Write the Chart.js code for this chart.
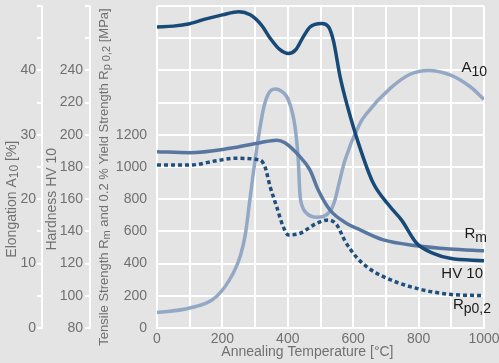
<!DOCTYPE html>
<html lang="en">
<head>
    <meta charset="UTF-8">
    <title>Annealing Temperature</title>
    <script src="https://cdn.jsdelivr.net/npm/chart.js"></script>
    <style>
        body {
            margin: 0;
            padding: 0;
            background-color: #e4e4e4;
        }
        #grafico {
            display: block;
        }
    </style>
</head>
<body>
    <canvas id="grafico" width="499" height="363"></canvas>

    <script>
        // Hardness HV 10
        const hvTemp   = [0, 50, 100, 150, 200, 250, 285, 320, 346, 375, 402, 425, 445, 468, 504, 525, 540, 560, 582, 614, 660, 713, 748, 794, 845, 896, 1000];
        const hvValues = [267, 267.5, 269, 272, 274.5, 276.5, 274.5, 268, 260, 253, 250.5, 253, 260, 267, 269.2, 267, 258, 236, 218, 196, 170.5, 155.3, 147, 132.6, 126.4, 123.3, 121.8];

        // Tensile Strength Rm [MPa]
        const rmTemp   = [0, 100, 223, 315, 366, 391, 437, 468, 493, 529, 580, 621, 692, 794, 896, 1000];
        const rmValues = [1095, 1089, 1116, 1151, 1166, 1150, 1064, 981, 857, 733, 650, 609, 547, 511, 491, 480];

        // 0.2 % Yield Strength Rp0,2 [MPa]
        const rpTemp   = [0, 100, 182, 240, 315, 330, 346, 366, 386, 402, 437, 488, 524, 550, 575, 610, 641, 692, 794, 896, 1000];
        const rpValues = [1012, 1012, 1039, 1054, 1043, 1002, 878, 753, 629, 578, 588, 650, 671, 640, 540, 440, 381, 319, 246, 209, 201];

        // Elongation A10 [%]
        const aTemp   = [0, 100, 182, 233, 255, 270, 284, 300, 325, 340, 361, 380, 402, 422, 432, 437, 445, 458, 488, 529, 545, 554, 575, 621, 641, 713, 774, 830, 896, 957, 1000];
        const aValues = [2.4, 3.1, 4.9, 8.5, 11.2, 14.5, 19.9, 26.1, 33.9, 36.3, 37.1, 36.8, 35.4, 31.3, 26.1, 20.9, 18.8, 17.8, 17.2, 18.1, 20, 21.9, 26.1, 31.8, 33.3, 37.2, 39.4, 40.0, 39.3, 37.5, 35.5];

        // tick labels
        const xLabels = [0, 200, 400, 600, 800, 1000];
        const elongLabels = [0, 10, 20, 30, 40];
        const hvLabels = [80, 100, 120, 140, 160, 180, 200, 220, 240];
        const mpaLabels = [0, 200, 400, 600, 800, 1000, 1200];

        const FONT = '"Liberation Sans", Arial, sans-serif';
        const GRIS = '#707070';

        function pares(xs, ys) {
            return xs.map((x, i) => ({ x: x, y: ys[i] }));
        }

        // texto com subscritos: partes = [[texto, sub], ...]
        function textoRico(ctx, partes, x, y, tam, subTam, desloc, align) {
            let total = 0;
            partes.forEach(p => {
                ctx.font = (p[1] ? subTam : tam) + 'px ' + FONT;
                total += ctx.measureText(p[0]).width;
            });
            let cx = align === 'right' ? x - total : (align === 'center' ? x - total / 2 : x);
            ctx.textAlign = 'left';
            ctx.textBaseline = 'middle';
            partes.forEach(p => {
                ctx.font = (p[1] ? subTam : tam) + 'px ' + FONT;
                ctx.fillText(p[0], cx, y + (p[1] ? desloc : 0));
                cx += ctx.measureText(p[0]).width;
            });
        }

        function tituloVertical(ctx, partes, x, y, tam) {
            ctx.save();
            ctx.translate(x, y);
            ctx.rotate(-Math.PI / 2);
            textoRico(ctx, partes, 0, 0, tam, tam - 2, 3, 'center');
            ctx.restore();
        }

        const rotulos = {
            id: 'rotulos',
            afterDraw(chart) {
                const ctx = chart.ctx;
                const s = chart.scales;
                ctx.save();
                ctx.fillStyle = GRIS;
                tituloVertical(ctx, [['Elongation A', false], ['10', true], [' [%]', false]],
                    s.yA.left + 12, s.yA.getPixelForValue(20), 14);
                tituloVertical(ctx, [['Hardness HV 10', false]],
                    s.yHV.left + 10, s.yHV.getPixelForValue(160), 14);
                tituloVertical(ctx, [['Tensile Strength R', false], ['m', true], [' and 0.2 % Yield Strength R', false], ['p 0,2', true], [' [MPa]', false]],
                    s.yMPa.left + 14, (chart.chartArea.top + chart.chartArea.bottom) / 2 + 10, 13);
                textoRico(ctx, [['Annealing Temperature [°C]', false]],
                    s.x.getPixelForValue(460), chart.chartArea.bottom + 24, 14, 12, 0, 'center');

                // nomes das curvas
                ctx.fillStyle = '#1a1a1a';
                const dir = s.x.getPixelForValue(1000);
                textoRico(ctx, [['A', false], ['10', true]], dir + 3, s.yMPa.getPixelForValue(1615), 15, 14, 4, 'right');
                textoRico(ctx, [['R', false], ['m', true]], dir + 3, s.yMPa.getPixelForValue(584), 15, 14, 4, 'right');
                textoRico(ctx, [['HV 10', false]], dir - 1, s.yMPa.getPixelForValue(335), 15, 14, 4, 'right');
                textoRico(ctx, [['R', false], ['p0,2', true]], dir + 7, s.yMPa.getPixelForValue(143), 15, 14, 4, 'right');
                ctx.restore();
            }
        };

        function larguraFixa(w) {
            return s => { s.width = w; s.paddingTop = 0; s.paddingBottom = 0; };
        }

        const ctx = document.getElementById('grafico').getContext('2d');
        new Chart(ctx, {
            type: 'line',
            data: {
                datasets: [
                    {
                        label: 'HV 10',
                        data: pares(hvTemp, hvValues),
                        yAxisID: 'yHV',
                        borderColor: '#184a78',
                        borderWidth: 3.5
                    },
                    {
                        label: 'Rp0,2',
                        data: pares(rpTemp, rpValues),
                        yAxisID: 'yMPa',
                        borderColor: '#1f4f7d',
                        borderWidth: 3.5,
                        borderDash: [4, 3]
                    },
                    {
                        label: 'Rm',
                        data: pares(rmTemp, rmValues),
                        yAxisID: 'yMPa',
                        borderColor: '#5877a0',
                        borderWidth: 3.5
                    },
                    {
                        label: 'A10',
                        data: pares(aTemp, aValues),
                        yAxisID: 'yA',
                        borderColor: '#92a8c4',
                        borderWidth: 3.5
                    }
                ]
            },
            options: {
                responsive: false,
                animation: false,
                devicePixelRatio: 1,
                layout: { padding: { top: 6, right: 15, left: 0, bottom: 0 } },
                elements: {
                    point: { radius: 0 },
                    line: { cubicInterpolationMode: 'monotone', fill: false, borderCapStyle: 'butt' }
                },
                plugins: {
                    legend: { display: false },
                    tooltip: { enabled: false }
                },
                scales: {
                    x: {
                        type: 'linear',
                        min: 0,
                        max: 1000,
                        grid: { color: '#ffffff', lineWidth: 2, drawTicks: false },
                        border: { color: '#ffffff', width: 2 },
                        ticks: {
                            stepSize: 100,
                            autoSkip: false,
                            maxRotation: 0,
                            padding: 3,
                            color: GRIS,
                            font: { family: FONT, size: 14 },
                            callback: v => xLabels.includes(v) ? String(v) : ''
                        },
                        afterFit: s => { s.height = 35; s.paddingLeft = 0; s.paddingRight = 0; }
                    },
                    yA: {
                        position: 'left',
                        weight: 2,
                        min: 0,
                        max: 50,
                        grid: { drawOnChartArea: false, color: '#ffffff', lineWidth: 2, tickLength: 5 },
                        border: { color: '#ffffff', width: 2 },
                        ticks: {
                            stepSize: 5,
                            autoSkip: false,
                            padding: 1,
                            color: GRIS,
                            font: { family: FONT, size: 14 },
                            callback: v => elongLabels.includes(v) ? String(v) : ''
                        },
                        afterFit: larguraFixa(42)
                    },
                    yHV: {
                        position: 'left',
                        weight: 1,
                        min: 80,
                        max: 280,
                        grid: { drawOnChartArea: false, color: '#ffffff', lineWidth: 2, tickLength: 5 },
                        border: { color: '#ffffff', width: 2 },
                        ticks: {
                            stepSize: 20,
                            autoSkip: false,
                            padding: 2,
                            color: GRIS,
                            font: { family: FONT, size: 14 },
                            callback: v => hvLabels.includes(v) ? String(v) : ''
                        },
                        afterFit: larguraFixa(48)
                    },
                    yMPa: {
                        position: 'left',
                        weight: 0,
                        min: 0,
                        max: 2000,
                        grid: { color: '#ffffff', lineWidth: 2, drawTicks: false },
                        border: { display: false },
                        ticks: {
                            stepSize: 200,
                            autoSkip: false,
                            padding: 10,
                            color: GRIS,
                            font: { family: FONT, size: 14 },
                            callback: v => mpaLabels.includes(v) ? String(v) : ''
                        },
                        afterFit: larguraFixa(67)
                    }
                }
            },
            plugins: [rotulos]
        });
    </script>
</body>
</html>
